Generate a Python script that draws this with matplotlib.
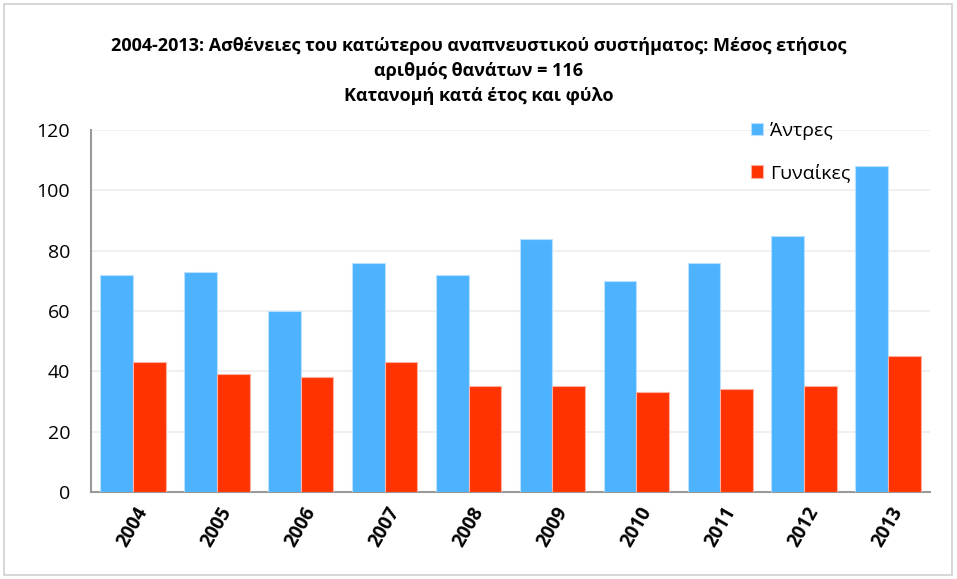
import numpy as np
import matplotlib
matplotlib.use("Agg")
import matplotlib.pyplot as plt
from matplotlib.patches import Rectangle

plt.rcParams['font.family'] = ['Open Sans', 'DejaVu Sans']

years = ['2004', '2005', '2006', '2007', '2008', '2009', '2010', '2011', '2012', '2013']
men = [72, 73, 60, 76, 72, 84, 70, 76, 85, 108]
women = [43, 39, 38, 43, 35, 35, 33, 34, 35, 45]

fig = plt.figure(figsize=(9.57, 5.79), dpi=100)
ax = fig.add_axes([91 / 957, 1 - 492 / 579, 839 / 957, 362 / 579])

x = np.arange(len(years))
w = 0.39
ax.bar(x - w / 2, men, w, color='#4db3ff', edgecolor='#b8e0ff', linewidth=0.8,
       label='Άντρες', zorder=3)
ax.bar(x + w / 2, women, w, color='#ff3300', edgecolor='#ffb0a0', linewidth=0.8,
       label='Γυναίκες', zorder=3)

ax.set_xlim(-0.5, len(years) - 0.5)
ax.set_ylim(0, 120)
ax.set_yticks(range(0, 121, 20))
ax.yaxis.grid(True, color='#eeeeee', linewidth=1.2, zorder=0)
ax.set_xticks(x)
ax.set_xticklabels(years, rotation=60, fontweight='bold', fontsize=13.5,
                   ha='center', va='top')
ax.tick_params(axis='y', length=0, labelsize=14)
ax.tick_params(axis='x', length=0, pad=8)
ax.tick_params(axis='y', pad=15)

for s in ['top', 'right']:
    ax.spines[s].set_visible(False)
for s in ['left', 'bottom']:
    ax.spines[s].set_color('#999999')
    ax.spines[s].set_linewidth(1.5)

leg = ax.legend(loc='upper left', bbox_to_anchor=(0.766, 1.07), frameon=False,
                fontsize=14, handlelength=0.6, handleheight=0.6,
                handletextpad=0.35, labelspacing=1.2)

fig.text(0.5, 1 - 71 / 579,
         '2004-2013: Ασθένειες του κατώτερου αναπνευστικού συστήματος: Μέσος ετήσιος\n'
         'αριθμός θανάτων = 116\nΚατανομή κατά έτος και φύλο',
         ha='center', va='center', fontsize=13, fontweight='bold', linespacing=1.5)

fig.patches.append(Rectangle((4 / 957, 4 / 579), 948 / 957, 571 / 579,
                             transform=fig.transFigure, fill=False,
                             edgecolor='#d0d0d0', linewidth=1.2))

fig.savefig('out.png', dpi=100)
